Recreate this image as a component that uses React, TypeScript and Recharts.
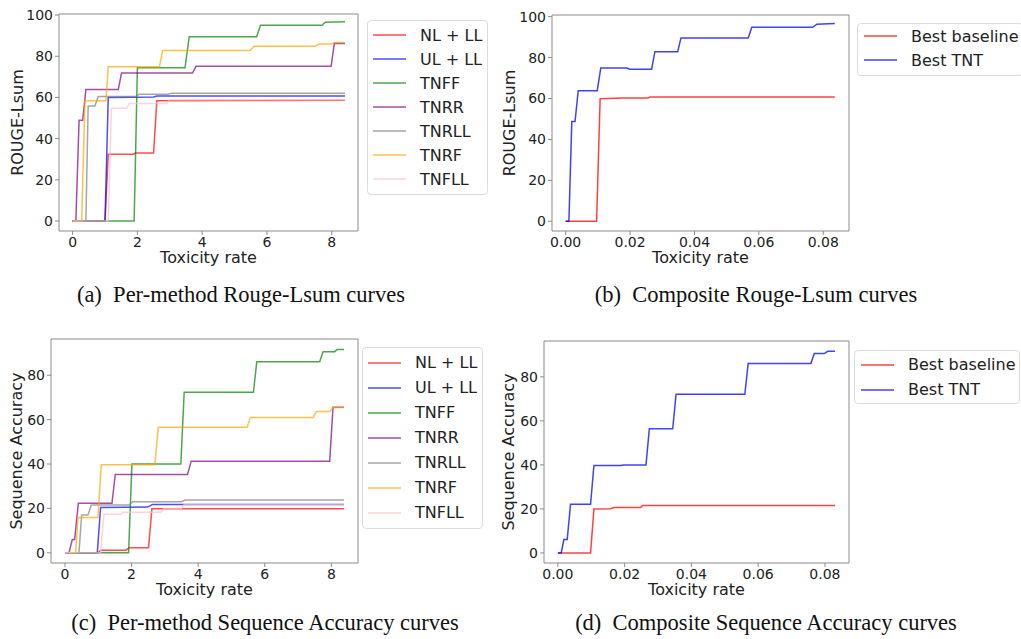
import React from 'react';
import { LineChart, Line, XAxis, YAxis, Legend, Label, ReferenceLine } from 'recharts';

type Pt = [number, number];

// (a) per-method ROUGE-Lsum vs toxicity rate
const rougeNlLl: Pt[] = [[0, 0], [1.0, 0], [1.1, 32.4], [1.87, 32.4], [1.95, 33], [2.5, 33], [2.6, 58.4], [8.41, 58.6]];
const rougeUlLl: Pt[] = [[0, 0], [1.0, 0], [1.1, 60], [2.5, 60.2], [2.6, 60.7], [8.41, 60.7]];
const rougeTnff: Pt[] = [[0, 0], [1.9, 0], [2.0, 74.4], [3.47, 74.4], [3.6, 89.5], [5.68, 89.5], [5.8, 95], [7.7, 95], [7.8, 96.5], [8.41, 96.7]];
const rougeTnrr: Pt[] = [[0, 0], [0.1, 0], [0.2, 48.9], [0.31, 48.9], [0.41, 63.8], [1.41, 63.8], [1.51, 71.8], [3.7, 71.8], [3.81, 75.1], [7.98, 75.1], [8.08, 86.2], [8.41, 86.2]];
const rougeTnrll: Pt[] = [[0, 0], [0.41, 0], [0.48, 55.8], [0.69, 55.8], [0.79, 60.5], [1.95, 60.5], [2.05, 61.5], [2.95, 61.5], [3.05, 62], [8.41, 62]];
const rougeTnrf: Pt[] = [[0, 0], [0.28, 0], [0.38, 58.4], [1.03, 58.4], [1.1, 74.9], [2.68, 74.9], [2.78, 82.8], [5.48, 82.8], [5.6, 84.9], [7.49, 84.9], [7.62, 85.9], [8.0, 85.9], [8.08, 86.7], [8.41, 86.7]];
const rougeTnfll: Pt[] = [[0, 0], [1.1, 0], [1.2, 54.7], [1.67, 54.7], [1.75, 57.1], [2.9, 57.1], [3.0, 58.9], [8.41, 58.9]];

// (b) composite ROUGE-Lsum
const rougeBestBase: Pt[] = [[0, 0], [0.0096, 0], [0.0107, 59.9], [0.018, 60.2], [0.0255, 60.3], [0.0262, 60.7], [0.0836, 60.7]];
const rougeBestTnt: Pt[] = [[0, 0], [0.001, 0], [0.0019, 48.7], [0.0029, 48.7], [0.0039, 63.8], [0.0098, 63.8], [0.0109, 74.9], [0.019, 74.9], [0.0198, 74.3], [0.0267, 74.3], [0.0277, 82.9], [0.0348, 82.9], [0.0358, 89.6], [0.0567, 89.6], [0.0578, 94.8], [0.0767, 94.8], [0.078, 96.3], [0.0836, 96.6]];

// (c) per-method sequence accuracy
const accNlLl: Pt[] = [[0, 0], [1.0, 0], [1.07, 1.2], [1.83, 1.2], [1.93, 2.3], [2.51, 2.3], [2.61, 19.8], [8.38, 19.8]];
const accUlLl: Pt[] = [[0, 0], [0.97, 0], [1.07, 20.4], [2.48, 20.6], [2.63, 21.8], [8.38, 21.8]];
const accTnff: Pt[] = [[0, 0], [1.91, 0], [2.01, 40], [3.48, 40], [3.58, 72.3], [5.66, 72.3], [5.76, 86.1], [7.65, 86.1], [7.75, 90.6], [8.1, 90.6], [8.17, 91.6], [8.38, 91.6]];
const accTnrr: Pt[] = [[0, 0], [0.12, 0], [0.22, 6], [0.29, 6], [0.4, 22.3], [1.41, 22.3], [1.51, 35.3], [3.68, 35.3], [3.79, 41.3], [7.95, 41.3], [8.05, 65.6], [8.38, 65.6]];
const accTnrll: Pt[] = [[0, 0], [0.42, 0], [0.5, 17], [0.69, 17], [0.79, 21.5], [1.93, 21.5], [2.03, 23], [3.5, 23], [3.6, 23.8], [8.38, 23.8]];
const accTnrf: Pt[] = [[0, 0], [0.32, 0], [0.39, 15.9], [0.99, 15.9], [1.09, 39.7], [2.7, 39.7], [2.8, 56.5], [5.47, 56.5], [5.57, 61], [7.45, 61], [7.55, 63.6], [7.95, 63.6], [8.05, 65.4], [8.38, 65.4]];
const accTnfll: Pt[] = [[0, 0], [1.07, 0], [1.17, 17.4], [1.68, 17.4], [1.76, 18.3], [2.88, 18.3], [2.98, 20], [3.5, 20], [3.58, 21.8], [8.38, 21.8]];

// (d) composite sequence accuracy
const accBestBase: Pt[] = [[0, 0], [0.0098, 0], [0.0108, 20], [0.0158, 20.1], [0.0168, 20.6], [0.0247, 20.6], [0.0254, 21.6], [0.083, 21.6]];
const accBestTnt: Pt[] = [[0, 0], [0.001, 0], [0.0018, 6.1], [0.0028, 6.1], [0.0038, 22.1], [0.0098, 22.1], [0.0108, 39.7], [0.0188, 39.7], [0.0198, 40], [0.0264, 40], [0.0274, 56.4], [0.0344, 56.4], [0.0354, 72.1], [0.056, 72.1], [0.057, 86.1], [0.0758, 86.1], [0.0768, 90.6], [0.0798, 90.6], [0.0808, 91.6], [0.083, 91.6]];

const METHOD_NAMES = ['NL + LL', 'UL + LL', 'TNFF', 'TNRR', 'TNRLL', 'TNRF', 'TNFLL'];
const METHOD_COLORS = ['#ff0000', '#0000ff', '#008000', '#800080', '#808080', '#ffa500', '#ffc0cb'];
const COMPOSITE_NAMES = ['Best baseline', 'Best TNT'];
const COMPOSITE_COLORS = ['#ff0000', '#0000ff'];

const RATE_TICKS = [0, 2, 4, 6, 8];
const FRACTION_TICKS = [0, 0.02, 0.04, 0.06, 0.08];
const ROUGE_TICKS = [0, 20, 40, 60, 80, 100];
const ACC_TICKS = [0, 20, 40, 60, 80];

const INK = '#222';
const SPINE = '#8c8c8c';
const FONT = '"DejaVu Sans", sans-serif';

const toRows = (pts: Pt[]) => pts.map(([x, y]) => ({ x, y }));

function LegendBox({ names, colors, rowH, pad, opacity }: { names: string[]; colors: string[]; rowH: number; pad: string; opacity: number }) {
  return (
    <div
      style={{
        border: '1px solid #dcdcdc',
        borderRadius: 4,
        background: 'rgba(255,255,255,0.85)',
        padding: pad,
        fontFamily: FONT,
        fontSize: 16,
        color: INK,
        whiteSpace: 'nowrap',
      }}
    >
      {names.map((n, i) => (
        <div key={n} style={{ height: rowH, display: 'flex', alignItems: 'center' }}>
          <svg width={33} height={4} style={{ marginRight: 14, display: 'block' }}>
            <line x1={0} y1={2} x2={33} y2={2} stroke={colors[i]} strokeOpacity={opacity} strokeWidth={1.5} />
          </svg>
          <span>{n}</span>
        </div>
      ))}
    </div>
  );
}

type PanelProps = {
  box: [number, number, number, number]; // left, top, width, height
  plot: [number, number, number, number]; // left, top, right, bottom (page px)
  series: Pt[][];
  names: string[];
  colors: string[];
  xDomain: [number, number];
  xTicks: number[];
  xFmt?: (v: number) => string;
  yDomain: [number, number];
  yTicks: number[];
  yTitle: string;
  yTitleGap: number;
  legendAt: [number, number];
  rowH: number;
  legendPad: string;
  opacity: number;
};

function Panel(p: PanelProps) {
  const [ox, oy, w, h] = p.box;
  const [l, t, r, b] = p.plot;
  return (
    <div style={{ position: 'absolute', left: ox, top: oy }}>
      <LineChart width={w} height={h} margin={{ top: t - oy, right: ox + w - r, bottom: 0, left: 0 }}>
        <XAxis
          dataKey="x"
          type="number"
          domain={p.xDomain}
          allowDataOverflow
          ticks={p.xTicks}
          interval={0}
          tickFormatter={p.xFmt}
          height={oy + h - b}
          stroke={SPINE}
          tick={{ fill: INK, fontSize: 14 }}
          tickSize={4}
          tickMargin={2}
        >
          <Label
            content={(lp: any) => {
              const vb = lp.viewBox;
              return (
                <text x={vb.x + vb.width / 2} y={vb.y + 32} textAnchor="middle" fill={INK} fontSize={16}>
                  Toxicity rate
                </text>
              );
            }}
          />
        </XAxis>
        <YAxis
          type="number"
          domain={p.yDomain}
          allowDataOverflow
          ticks={p.yTicks}
          interval={0}
          width={l - ox}
          stroke={SPINE}
          tick={{ fill: INK, fontSize: 14 }}
          tickSize={4}
          tickMargin={2}
        >
          <Label
            content={(lp: any) => {
              const vb = lp.viewBox;
              const cx = vb.x + vb.width - p.yTitleGap;
              const cy = vb.y + vb.height / 2;
              return (
                <text x={cx} y={cy} transform={`rotate(-90 ${cx} ${cy})`} textAnchor="middle" fill={INK} fontSize={16}>
                  {p.yTitle}
                </text>
              );
            }}
          />
        </YAxis>
        {/* top and right spines at the axis limits */}
        <ReferenceLine x={p.xDomain[1]} stroke={SPINE} ifOverflow="visible" />
        <ReferenceLine y={p.yDomain[1]} stroke={SPINE} ifOverflow="visible" />
        {p.series.map((s, i) => (
          <Line
            key={p.names[i]}
            name={p.names[i]}
            data={toRows(s)}
            dataKey="y"
            type="linear"
            stroke={p.colors[i]}
            strokeOpacity={p.opacity}
            strokeWidth={1.5}
            dot={false}
            activeDot={false}
            isAnimationActive={false}
          />
        ))}
        <Legend
          layout="vertical"
          align="center"
          verticalAlign="middle"
          wrapperStyle={{ left: p.legendAt[0] - ox, top: p.legendAt[1] - oy, width: 'auto', height: 'auto' }}
          content={() => <LegendBox names={p.names} colors={p.colors} rowH={p.rowH} pad={p.legendPad} opacity={p.opacity} />}
        />
      </LineChart>
    </div>
  );
}

const captionStyle = (cx: number, top: number): React.CSSProperties => ({
  position: 'absolute',
  left: cx - 250,
  width: 500,
  top,
  textAlign: 'center',
  fontFamily: '"Liberation Serif", "Times New Roman", serif',
  fontSize: 22.5,
  lineHeight: '22px',
  color: '#111',
  whiteSpace: 'nowrap',
});

export default function App() {
  const fmt2 = (v: number) => v.toFixed(2);
  return (
    <div style={{ position: 'absolute', left: 0, top: 0, width: 1021, height: 639, overflow: 'hidden', background: '#fff', fontFamily: FONT }}>
      <Panel
        box={[0, 0, 500, 275]}
        plot={[59, 14, 358, 231]}
        series={[rougeNlLl, rougeUlLl, rougeTnff, rougeTnrr, rougeTnrll, rougeTnrf, rougeTnfll]}
        names={METHOD_NAMES}
        colors={METHOD_COLORS}
        xDomain={[-0.42, 8.81]}
        xTicks={RATE_TICKS}
        yDomain={[-4.85, 100.5]}
        yTicks={ROUGE_TICKS}
        yTitle="ROUGE-Lsum"
        yTitleGap={36}
        legendAt={[367, 20]}
        rowH={24}
        legendPad="2px 5px 3px 5px"
        opacity={0.7}
      />
      <Panel
        box={[500, 0, 521, 275]}
        plot={[552, 15, 849, 231]}
        series={[rougeBestBase, rougeBestTnt]}
        names={COMPOSITE_NAMES}
        colors={COMPOSITE_COLORS}
        xDomain={[-0.00425, 0.088]}
        xTicks={FRACTION_TICKS}
        xFmt={fmt2}
        yDomain={[-4.75, 100.8]}
        yTicks={ROUGE_TICKS}
        yTitle="ROUGE-Lsum"
        yTitleGap={37}
        legendAt={[857, 23]}
        rowH={24}
        legendPad="0px 3px 3px 6px"
        opacity={0.75}
      />
      <Panel
        box={[0, 320, 500, 290]}
        plot={[51, 339, 358, 563]}
        series={[accNlLl, accUlLl, accTnff, accTnrr, accTnrll, accTnrf, accTnfll]}
        names={METHOD_NAMES}
        colors={METHOD_COLORS}
        xDomain={[-0.42, 8.8]}
        xTicks={RATE_TICKS}
        yDomain={[-4.58, 96.3]}
        yTicks={ACC_TICKS}
        yTitle="Sequence Accuracy"
        yTitleGap={29}
        legendAt={[362, 347]}
        rowH={25}
        legendPad="2px 5px 3px 5px"
        opacity={0.7}
      />
      <Panel
        box={[500, 320, 521, 290]}
        plot={[544, 341, 849, 563]}
        series={[accBestBase, accBestTnt]}
        names={COMPOSITE_NAMES}
        colors={COMPOSITE_COLORS}
        xDomain={[-0.00415, 0.0872]}
        xTicks={FRACTION_TICKS}
        xFmt={fmt2}
        yDomain={[-4.58, 96.3]}
        yTicks={ACC_TICKS}
        yTitle="Sequence Accuracy"
        yTitleGap={30}
        legendAt={[854, 350]}
        rowH={25}
        legendPad="1px 3px 1px 6px"
        opacity={0.75}
      />
      <div style={captionStyle(241, 284)}>
        (a)&nbsp; Per-method Rouge-Lsum curves
      </div>
      <div style={captionStyle(756, 284)}>
        (b)&nbsp; Composite Rouge-Lsum curves
      </div>
      <div style={captionStyle(265, 612)}>
        (c)&nbsp; Per-method Sequence Accuracy curves
      </div>
      <div style={captionStyle(766, 612)}>
        (d)&nbsp; Composite Sequence Accuracy curves
      </div>
    </div>
  );
}
